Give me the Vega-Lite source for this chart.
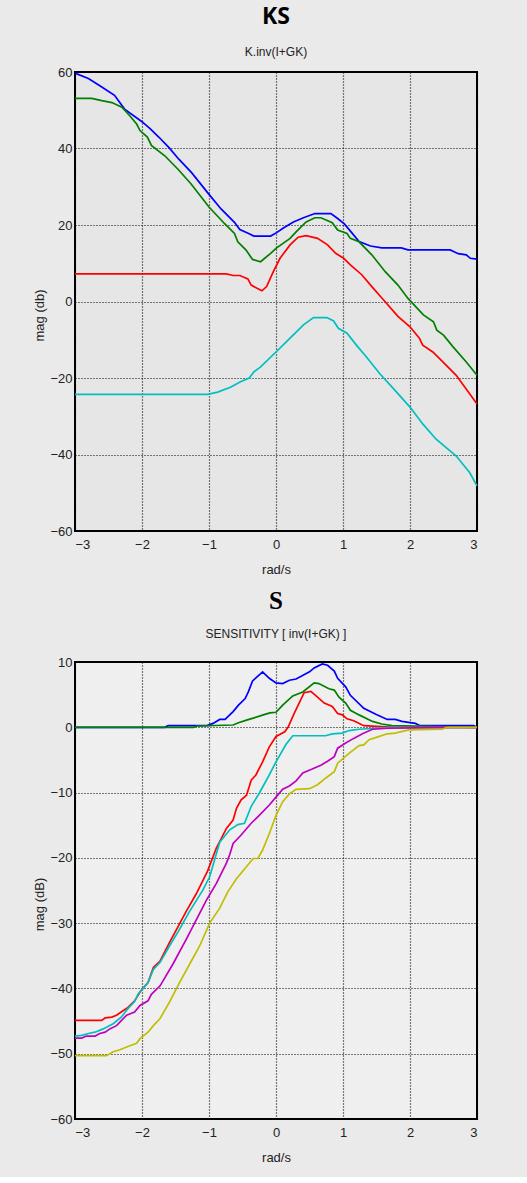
{
  "$schema": "https://vega.github.io/schema/vega-lite/v6.json",
  "background": "#eaeaea",
  "padding": {"left": 32, "top": 5, "right": 50, "bottom": 12},
  "spacing": 11,
  "datasets": {
    "ks": [
      {"s":"b","x":-3,"y":59.7},{"s":"b","x":-2.8,"y":58.3},{"s":"b","x":-2.6,"y":56.1},{"s":"b","x":-2.41,"y":53.9},{"s":"b","x":-2.26,"y":50.3},{"s":"b","x":-2,"y":47},{"s":"b","x":-1.88,"y":45.2},{"s":"b","x":-1.75,"y":43},{"s":"b","x":-1.6,"y":40.3},{"s":"b","x":-1.45,"y":37.2},{"s":"b","x":-1.26,"y":33.7},{"s":"b","x":-1,"y":28},{"s":"b","x":-0.82,"y":24.2},{"s":"b","x":-0.62,"y":20.7},{"s":"b","x":-0.54,"y":18.8},{"s":"b","x":-0.4,"y":17.7},{"s":"b","x":-0.33,"y":17.1},{"s":"b","x":-0.08,"y":17.1},{"s":"b","x":0.01,"y":18},{"s":"b","x":0.11,"y":19.2},{"s":"b","x":0.26,"y":20.8},{"s":"b","x":0.41,"y":21.9},{"s":"b","x":0.58,"y":23},{"s":"b","x":0.82,"y":23},{"s":"b","x":0.92,"y":21.7},{"s":"b","x":1.02,"y":20.3},{"s":"b","x":1.12,"y":18.2},{"s":"b","x":1.24,"y":15.7},{"s":"b","x":1.41,"y":14.5},{"s":"b","x":1.58,"y":14},{"s":"b","x":1.87,"y":14},{"s":"b","x":1.97,"y":13.5},{"s":"b","x":2.6,"y":13.5},{"s":"b","x":2.72,"y":12.5},{"s":"b","x":2.84,"y":12.2},{"s":"b","x":2.9,"y":11.3},{"s":"b","x":3,"y":11.1},
      {"s":"g","x":-3,"y":53.1},{"s":"g","x":-2.75,"y":53.1},{"s":"g","x":-2.6,"y":52.5},{"s":"g","x":-2.45,"y":52},{"s":"g","x":-2.3,"y":50.8},{"s":"g","x":-2.18,"y":48.5},{"s":"g","x":-2.08,"y":46.4},{"s":"g","x":-2.03,"y":44.7},{"s":"g","x":-1.92,"y":43},{"s":"g","x":-1.86,"y":40.8},{"s":"g","x":-1.66,"y":38.1},{"s":"g","x":-1.47,"y":34.7},{"s":"g","x":-1.27,"y":30.8},{"s":"g","x":-1,"y":24.7},{"s":"g","x":-0.77,"y":20.4},{"s":"g","x":-0.62,"y":17.8},{"s":"g","x":-0.57,"y":15.6},{"s":"g","x":-0.45,"y":13.5},{"s":"g","x":-0.35,"y":11},{"s":"g","x":-0.23,"y":10.4},{"s":"g","x":-0.08,"y":12.6},{"s":"g","x":0,"y":13.9},{"s":"g","x":0.21,"y":16.5},{"s":"g","x":0.3,"y":18.2},{"s":"g","x":0.45,"y":20.8},{"s":"g","x":0.58,"y":21.9},{"s":"g","x":0.67,"y":21.9},{"s":"g","x":0.84,"y":20.6},{"s":"g","x":0.92,"y":18.7},{"s":"g","x":1.06,"y":17.8},{"s":"g","x":1.11,"y":16.5},{"s":"g","x":1.24,"y":15.6},{"s":"g","x":1.43,"y":12.2},{"s":"g","x":1.63,"y":7.8},{"s":"g","x":1.82,"y":4.3},{"s":"g","x":1.97,"y":0.8},{"s":"g","x":2.2,"y":-3.5},{"s":"g","x":2.35,"y":-5.3},{"s":"g","x":2.4,"y":-7.5},{"s":"g","x":2.5,"y":-8.8},{"s":"g","x":2.64,"y":-11.8},{"s":"g","x":2.84,"y":-15.8},{"s":"g","x":3,"y":-19.3},
      {"s":"r","x":-3,"y":7.2},{"s":"r","x":-0.74,"y":7.2},{"s":"r","x":-0.64,"y":6.8},{"s":"r","x":-0.54,"y":6.8},{"s":"r","x":-0.42,"y":5.9},{"s":"r","x":-0.37,"y":4.3},{"s":"r","x":-0.29,"y":3.5},{"s":"r","x":-0.21,"y":2.8},{"s":"r","x":-0.14,"y":3.9},{"s":"r","x":-0.04,"y":7.8},{"s":"r","x":0.06,"y":11.3},{"s":"r","x":0.21,"y":14.8},{"s":"r","x":0.33,"y":16.8},{"s":"r","x":0.45,"y":17.2},{"s":"r","x":0.62,"y":16.5},{"s":"r","x":0.77,"y":14.8},{"s":"r","x":0.89,"y":12.6},{"s":"r","x":1.01,"y":11.3},{"s":"r","x":1.11,"y":9.6},{"s":"r","x":1.28,"y":7},{"s":"r","x":1.43,"y":3.9},{"s":"r","x":1.58,"y":0.9},{"s":"r","x":1.82,"y":-3.9},{"s":"r","x":2,"y":-6.6},{"s":"r","x":2.14,"y":-9.6},{"s":"r","x":2.19,"y":-11.4},{"s":"r","x":2.34,"y":-13.2},{"s":"r","x":2.49,"y":-15.8},{"s":"r","x":2.69,"y":-19.3},{"s":"r","x":2.89,"y":-24.1},{"s":"r","x":3,"y":-26.8},
      {"s":"c","x":-3,"y":-24.3},{"s":"c","x":-1.02,"y":-24.3},{"s":"c","x":-0.87,"y":-23.7},{"s":"c","x":-0.68,"y":-22.4},{"s":"c","x":-0.53,"y":-21},{"s":"c","x":-0.4,"y":-20},{"s":"c","x":-0.33,"y":-18.4},{"s":"c","x":-0.23,"y":-17.1},{"s":"c","x":0,"y":-13.2},{"s":"c","x":0.21,"y":-9.6},{"s":"c","x":0.41,"y":-6.1},{"s":"c","x":0.56,"y":-4.2},{"s":"c","x":0.76,"y":-4.2},{"s":"c","x":0.86,"y":-5.1},{"s":"c","x":0.93,"y":-7},{"s":"c","x":1.06,"y":-8.3},{"s":"c","x":1.2,"y":-11.4},{"s":"c","x":1.35,"y":-14.5},{"s":"c","x":1.55,"y":-18.9},{"s":"c","x":1.8,"y":-23.7},{"s":"c","x":2,"y":-27.6},{"s":"c","x":2.19,"y":-32},{"s":"c","x":2.39,"y":-36},{"s":"c","x":2.69,"y":-40.4},{"s":"c","x":2.89,"y":-44.7},{"s":"c","x":3,"y":-48.2}
    ],
    "sens": [
      {"s":"b","x":-3,"y":0},{"s":"b","x":-1.66,"y":0},{"s":"b","x":-1.61,"y":0.25},{"s":"b","x":-1.03,"y":0.25},{"s":"b","x":-0.94,"y":0.6},{"s":"b","x":-0.84,"y":1.2},{"s":"b","x":-0.76,"y":1.2},{"s":"b","x":-0.64,"y":2.4},{"s":"b","x":-0.56,"y":3.4},{"s":"b","x":-0.46,"y":4.4},{"s":"b","x":-0.41,"y":5.5},{"s":"b","x":-0.35,"y":7.1},{"s":"b","x":-0.2,"y":8.5},{"s":"b","x":-0.1,"y":7.5},{"s":"b","x":0,"y":6.8},{"s":"b","x":0.1,"y":6.7},{"s":"b","x":0.2,"y":7.2},{"s":"b","x":0.3,"y":7.4},{"s":"b","x":0.5,"y":8.5},{"s":"b","x":0.57,"y":9.1},{"s":"b","x":0.69,"y":9.7},{"s":"b","x":0.77,"y":9.5},{"s":"b","x":0.87,"y":8.6},{"s":"b","x":0.92,"y":7.5},{"s":"b","x":1.04,"y":6.2},{"s":"b","x":1.11,"y":4.9},{"s":"b","x":1.31,"y":2.9},{"s":"b","x":1.49,"y":2},{"s":"b","x":1.66,"y":1.2},{"s":"b","x":1.78,"y":1.2},{"s":"b","x":1.88,"y":0.9},{"s":"b","x":2.08,"y":0.6},{"s":"b","x":2.15,"y":0.25},{"s":"b","x":2.95,"y":0.25},{"s":"b","x":3,"y":0},
      {"s":"g","x":-3,"y":0},{"s":"g","x":-1.23,"y":0},{"s":"g","x":-1.18,"y":0.2},{"s":"g","x":-0.64,"y":0.35},{"s":"g","x":-0.56,"y":0.7},{"s":"g","x":-0.44,"y":1.1},{"s":"g","x":-0.34,"y":1.4},{"s":"g","x":-0.19,"y":1.9},{"s":"g","x":-0.09,"y":2.2},{"s":"g","x":0,"y":2.3},{"s":"g","x":0.1,"y":3.4},{"s":"g","x":0.25,"y":4.8},{"s":"g","x":0.4,"y":5.4},{"s":"g","x":0.57,"y":6.8},{"s":"g","x":0.64,"y":6.7},{"s":"g","x":0.79,"y":5.9},{"s":"g","x":0.87,"y":5.7},{"s":"g","x":0.94,"y":4.6},{"s":"g","x":1.04,"y":3.7},{"s":"g","x":1.11,"y":2.6},{"s":"g","x":1.24,"y":1.9},{"s":"g","x":1.44,"y":0.9},{"s":"g","x":1.58,"y":0.5},{"s":"g","x":1.73,"y":0.25},{"s":"g","x":2.97,"y":0},
      {"s":"r","x":-3,"y":-44.9},{"s":"r","x":-2.6,"y":-44.9},{"s":"r","x":-2.55,"y":-44.5},{"s":"r","x":-2.45,"y":-44.4},{"s":"r","x":-2.38,"y":-44.1},{"s":"r","x":-2.31,"y":-43.6},{"s":"r","x":-2.21,"y":-42.9},{"s":"r","x":-2.11,"y":-41.9},{"s":"r","x":-2.02,"y":-40.4},{"s":"r","x":-1.91,"y":-39.1},{"s":"r","x":-1.83,"y":-36.8},{"s":"r","x":-1.73,"y":-35.8},{"s":"r","x":-1.59,"y":-33},{"s":"r","x":-1.46,"y":-30.5},{"s":"r","x":-1.34,"y":-28.2},{"s":"r","x":-1.19,"y":-25.5},{"s":"r","x":-1.02,"y":-22},{"s":"r","x":-0.89,"y":-18.5},{"s":"r","x":-0.74,"y":-15.5},{"s":"r","x":-0.64,"y":-14.2},{"s":"r","x":-0.59,"y":-12.4},{"s":"r","x":-0.52,"y":-11.1},{"s":"r","x":-0.44,"y":-10.4},{"s":"r","x":-0.37,"y":-8.1},{"s":"r","x":-0.3,"y":-7.3},{"s":"r","x":-0.2,"y":-5.3},{"s":"r","x":-0.1,"y":-3},{"s":"r","x":0,"y":-1.4},{"s":"r","x":0.13,"y":-0.7},{"s":"r","x":0.18,"y":0},{"s":"r","x":0.27,"y":2.1},{"s":"r","x":0.42,"y":5.3},{"s":"r","x":0.52,"y":5.5},{"s":"r","x":0.59,"y":4.9},{"s":"r","x":0.72,"y":3.7},{"s":"r","x":0.84,"y":3.2},{"s":"r","x":0.92,"y":2.1},{"s":"r","x":0.99,"y":1.9},{"s":"r","x":1.06,"y":1.3},{"s":"r","x":1.16,"y":1},{"s":"r","x":1.31,"y":0.25},{"s":"r","x":1.76,"y":0},{"s":"r","x":3,"y":0},
      {"s":"c","x":-3,"y":-47.3},{"s":"c","x":-2.9,"y":-47.2},{"s":"c","x":-2.8,"y":-46.9},{"s":"c","x":-2.7,"y":-46.7},{"s":"c","x":-2.58,"y":-46.2},{"s":"c","x":-2.43,"y":-45.4},{"s":"c","x":-2.31,"y":-44.4},{"s":"c","x":-2.21,"y":-43.1},{"s":"c","x":-2.11,"y":-42},{"s":"c","x":-2.06,"y":-40.9},{"s":"c","x":-1.91,"y":-39.1},{"s":"c","x":-1.83,"y":-37.1},{"s":"c","x":-1.73,"y":-36},{"s":"c","x":-1.59,"y":-33.5},{"s":"c","x":-1.46,"y":-31.3},{"s":"c","x":-1.29,"y":-28.2},{"s":"c","x":-1.09,"y":-24.9},{"s":"c","x":-0.99,"y":-22.9},{"s":"c","x":-0.84,"y":-17.6},{"s":"c","x":-0.69,"y":-15.7},{"s":"c","x":-0.57,"y":-14.9},{"s":"c","x":-0.47,"y":-14.7},{"s":"c","x":-0.37,"y":-12.1},{"s":"c","x":-0.25,"y":-10.1},{"s":"c","x":-0.1,"y":-7.3},{"s":"c","x":0,"y":-5.3},{"s":"c","x":0.15,"y":-2.6},{"s":"c","x":0.25,"y":-1.3},{"s":"c","x":0.74,"y":-1.3},{"s":"c","x":0.84,"y":-1},{"s":"c","x":0.99,"y":-0.9},{"s":"c","x":1.09,"y":-0.5},{"s":"c","x":1.24,"y":-0.3},{"s":"c","x":1.66,"y":-0.05},{"s":"c","x":3,"y":0},
      {"s":"m","x":-3,"y":-47.6},{"s":"m","x":-2.9,"y":-47.6},{"s":"m","x":-2.83,"y":-47.3},{"s":"m","x":-2.7,"y":-47.3},{"s":"m","x":-2.63,"y":-46.9},{"s":"m","x":-2.55,"y":-46.7},{"s":"m","x":-2.48,"y":-46.2},{"s":"m","x":-2.38,"y":-45.7},{"s":"m","x":-2.23,"y":-44.1},{"s":"m","x":-2.11,"y":-43.6},{"s":"m","x":-2.03,"y":-42.6},{"s":"m","x":-1.91,"y":-41.9},{"s":"m","x":-1.86,"y":-40.9},{"s":"m","x":-1.73,"y":-39.6},{"s":"m","x":-1.54,"y":-36.3},{"s":"m","x":-1.34,"y":-32.5},{"s":"m","x":-1.19,"y":-29.5},{"s":"m","x":-1.04,"y":-26.5},{"s":"m","x":-0.89,"y":-23.9},{"s":"m","x":-0.74,"y":-20.8},{"s":"m","x":-0.69,"y":-19.5},{"s":"m","x":-0.64,"y":-17.8},{"s":"m","x":-0.52,"y":-16.5},{"s":"m","x":-0.37,"y":-14.7},{"s":"m","x":-0.25,"y":-13.5},{"s":"m","x":-0.1,"y":-11.9},{"s":"m","x":0,"y":-10.7},{"s":"m","x":0.1,"y":-9.5},{"s":"m","x":0.2,"y":-9},{"s":"m","x":0.3,"y":-8.2},{"s":"m","x":0.4,"y":-7},{"s":"m","x":0.54,"y":-6.4},{"s":"m","x":0.67,"y":-5.8},{"s":"m","x":0.77,"y":-5.2},{"s":"m","x":0.87,"y":-4.5},{"s":"m","x":0.92,"y":-3.2},{"s":"m","x":1.04,"y":-2.4},{"s":"m","x":1.16,"y":-1.7},{"s":"m","x":1.29,"y":-1},{"s":"m","x":1.44,"y":-0.3},{"s":"m","x":1.68,"y":-0.15},{"s":"m","x":2.5,"y":0},{"s":"m","x":3,"y":0},
      {"s":"y","x":-3,"y":-50.3},{"s":"y","x":-2.53,"y":-50.3},{"s":"y","x":-2.43,"y":-49.7},{"s":"y","x":-2.33,"y":-49.4},{"s":"y","x":-2.21,"y":-48.9},{"s":"y","x":-2.08,"y":-48.4},{"s":"y","x":-2.03,"y":-47.7},{"s":"y","x":-1.91,"y":-46.7},{"s":"y","x":-1.83,"y":-45.7},{"s":"y","x":-1.73,"y":-44.6},{"s":"y","x":-1.59,"y":-42.1},{"s":"y","x":-1.44,"y":-39.1},{"s":"y","x":-1.29,"y":-36.3},{"s":"y","x":-1.14,"y":-33.5},{"s":"y","x":-0.99,"y":-30},{"s":"y","x":-0.84,"y":-27.7},{"s":"y","x":-0.72,"y":-25.2},{"s":"y","x":-0.59,"y":-23.2},{"s":"y","x":-0.47,"y":-21.7},{"s":"y","x":-0.34,"y":-20.1},{"s":"y","x":-0.27,"y":-20.1},{"s":"y","x":-0.2,"y":-18.8},{"s":"y","x":-0.1,"y":-16.3},{"s":"y","x":0,"y":-13.5},{"s":"y","x":0.1,"y":-11.4},{"s":"y","x":0.2,"y":-10.2},{"s":"y","x":0.3,"y":-9.5},{"s":"y","x":0.5,"y":-9.4},{"s":"y","x":0.62,"y":-8.8},{"s":"y","x":0.74,"y":-7.8},{"s":"y","x":0.87,"y":-6.8},{"s":"y","x":0.92,"y":-5.5},{"s":"y","x":1.09,"y":-4},{"s":"y","x":1.24,"y":-2.8},{"s":"y","x":1.31,"y":-2.7},{"s":"y","x":1.39,"y":-1.9},{"s":"y","x":1.51,"y":-1.5},{"s":"y","x":1.66,"y":-1},{"s":"y","x":1.78,"y":-0.9},{"s":"y","x":1.98,"y":-0.4},{"s":"y","x":2.48,"y":-0.3},{"s":"y","x":2.55,"y":0},{"s":"y","x":3,"y":0}
    ]
  },
  "vconcat": [
    {
      "width": 402,
      "height": 459,
      "view": {"fill": "#e6e6e6"},
      "title": {"text": "KS", "subtitle": "K.inv(I+GK)", "font": "Open Sans", "fontSize": 23, "fontWeight": "bold", "color": "black", "subtitleFont": "Liberation Sans", "subtitleFontSize": 12, "subtitleColor": "#222", "subtitlePadding": 18, "offset": 8},
      "data": {"name": "ks"},
      "mark": {"type": "line", "strokeWidth": 1.7},
      "encoding": {
        "x": {"field": "x", "type": "quantitative", "scale": {"domain": [-3, 3], "nice": false, "zero": false}, "axis": {"values": [-3, -2, -1, 0, 1, 2, 3], "title": "rad/s"}},
        "y": {"field": "y", "type": "quantitative", "scale": {"domain": [-60, 60], "nice": false, "zero": false}, "axis": {"values": [-60, -40, -20, 0, 20, 40, 60], "title": "mag (db)", "titleY": 243}},
        "color": {"field": "s", "type": "nominal", "scale": {"domain": ["b", "g", "r", "c"], "range": ["#0000ff", "#008000", "#ff0000", "#00bfbf"]}, "legend": null}
      }
    },
    {
      "width": 402,
      "height": 457,
      "view": {"fill": "#efefef"},
      "title": {"text": "S", "subtitle": "SENSITIVITY [ inv(I+GK) ]", "font": "Liberation Serif", "fontSize": 25, "fontWeight": "bold", "color": "black", "subtitleFont": "Liberation Sans", "subtitleFontSize": 12, "subtitleColor": "#222", "subtitlePadding": 15, "offset": 16},
      "data": {"name": "sens"},
      "mark": {"type": "line", "strokeWidth": 1.7},
      "encoding": {
        "x": {"field": "x", "type": "quantitative", "scale": {"domain": [-3, 3], "nice": false, "zero": false}, "axis": {"values": [-3, -2, -1, 0, 1, 2, 3], "title": "rad/s"}},
        "y": {"field": "y", "type": "quantitative", "scale": {"domain": [-60, 10], "nice": false, "zero": false}, "axis": {"values": [-60, -50, -40, -30, -20, -10, 0, 10], "title": "mag (dB)", "titleY": 242}},
        "color": {"field": "s", "type": "nominal", "scale": {"domain": ["b", "g", "r", "c", "m", "y"], "range": ["#0000ff", "#008000", "#ff0000", "#00bfbf", "#bf00bf", "#bfbf00"]}, "legend": null}
      }
    }
  ],
  "resolve": {"scale": {"color": "independent"}},
  "config": {
    "view": {"stroke": "black", "strokeWidth": 2},
    "title": {"anchor": "middle", "frame": "group"},
    "axis": {
      "domain": false,
      "grid": true,
      "gridColor": "black",
      "gridDash": [1, 2],
      "gridWidth": 1.2,
      "gridOpacity": 1,
      "ticks": false,
      "labelFont": "Liberation Sans",
      "labelFontSize": 13,
      "labelColor": "#222",
      "titleFont": "Liberation Sans",
      "titleFontSize": 13,
      "titleFontWeight": "normal",
      "titleColor": "#222"
    },
    "axisX": {"titlePadding": 12, "labelPadding": 7},
    "axisY": {"titlePadding": 3, "labelPadding": 3}
  }
}
